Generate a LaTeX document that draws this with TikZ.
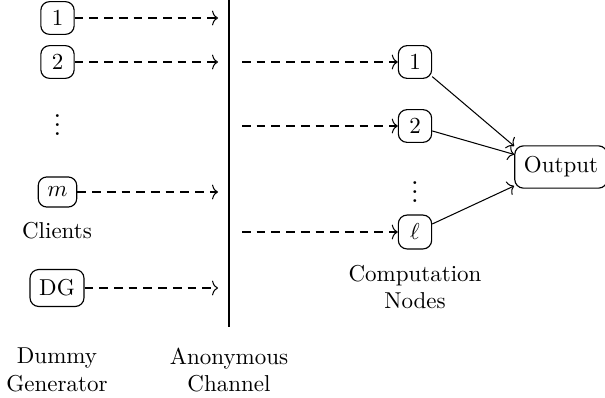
\documentclass[tikz,border=0pt]{standalone}
\usetikzlibrary{calc,arrows.meta}
\begin{document}
\begin{tikzpicture}[x=0.435pt,y=-0.435pt,
  box/.style={draw,rounded corners=3.8pt,inner xsep=4pt,inner ysep=3.9pt,minimum width=14.5pt,line width=0.5pt},
  lab/.style={align=center,inner sep=0pt},
  dots/.style={inner sep=0pt,font=\fontsize{13}{15}\selectfont},
  tip/.style={-{To[length=2.6pt,width=6.4pt]}},
  dasharrow/.style={tip,dash pattern=on 3.8pt off 2.6pt,line width=0.45pt},
  solidarrow/.style={tip,line width=0.45pt}]
\useasboundingbox (0,0) rectangle (605,397);
% clients
\node[box] (c1) at (57.5,18) {$1$};
\node[box] (c2) at (57.5,62) {$2$};
\node[dots] (cdots) at (57.5,118) {$\vdots$};
\node[box,inner ysep=4.4pt] (cm) at (57.5,192) {$m$};
\node[lab] (clients) at (57,231) {Clients};
\node[box,inner ysep=4.4pt] (dg) at (57,288) {DG};
% channel
\coordinate (ctop) at (229,0);
\coordinate (cbot) at (229,327);
\draw[line width=0.55pt] (ctop) -- (cbot);
\coordinate (e1) at (218,18);
\coordinate (e2) at (218,62);
\coordinate (em) at (218,192);
\coordinate (edg) at (218,288);
\draw[dasharrow] (c1) -- (e1);
\draw[dasharrow] (c2) -- (e2);
\draw[dasharrow] (cm) -- (em);
\draw[dasharrow] (dg) -- (edg);
% computation nodes
\node[box] (n1) at (415,62) {$1$};
\node[box] (n2) at (415,126) {$2$};
\node[dots] (ndots) at (415,185) {$\vdots$};
\node[box] (nl) at (415,232) {$\ell$};
\coordinate (s1) at (242,62);
\coordinate (s2) at (242,126);
\coordinate (sl) at (242,232);
\draw[dasharrow] (s1) -- (n1);
\draw[dasharrow] (s2) -- (n2);
\draw[dasharrow] (sl) -- (nl);
% output
\node[box,inner ysep=4.7pt] (out) at (561,167) {Output};
\draw[solidarrow] (n1) -- (out.156);
\draw[solidarrow] (n2) -- (out.165);
\draw[solidarrow] (nl) -- (out.202);
% labels
\node[lab] (comp) at (415,287) {Computation\\Nodes};
\node[lab] (dummy) at (57,370) {Dummy\\Generator};
\node[lab] (anon) at (229,370) {Anonymous\\Channel};
\end{tikzpicture}
\end{document}
